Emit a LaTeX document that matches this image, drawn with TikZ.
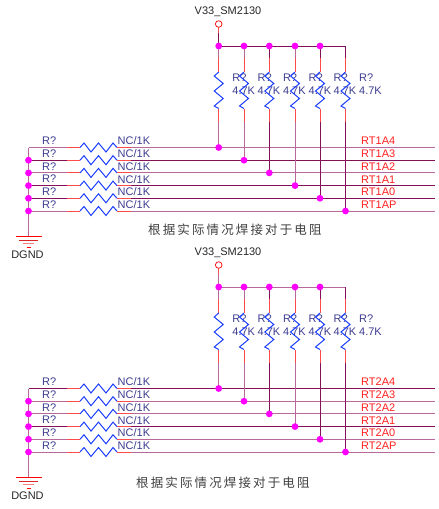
\documentclass[tikz,border=0pt]{standalone}
\usepackage{fontspec}
\setmainfont{Liberation Sans}
\newfontfamily\cjk[LetterSpace=17]{Noto Sans CJK SC}

\definecolor{wiredk}{HTML}{85105A}
\definecolor{wirelt}{HTML}{B8689A}
\definecolor{stubred}{HTML}{FF4A4A}
\definecolor{labelblue}{HTML}{3C3C90}
\definecolor{junction}{HTML}{FF00FF}
\definecolor{resblue}{HTML}{1A3CFF}
\definecolor{netred}{HTML}{FF2020}

\tikzset{
    wire/.style={line width=0.9pt},
    stub/.style={stubred, line width=1pt},
    resline/.style={resblue, line width=1pt},
    dot/.style={circle, fill=junction, inner sep=0pt, minimum size=6.8pt},
    txt/.style={font=\fontsize{11}{12}\selectfont, inner sep=0pt, anchor=west},
    resv/.pic={\draw[resline] (0,0) -- (-4.5,4) -- (4.5,11.5) -- (-4.5,19) -- (4.5,26.5) -- (-4.5,34) -- (0,36.5);},
    resh/.pic={\draw[resline] (0,0) -- (4,-4.5) -- (11,4.5) -- (18.5,-4.5) -- (26,4.5) -- (33,-4.5) -- (37,0);}
}

% one block: y offset, name, row colours, net prefix, column colours, rail colour
\newcommand{\rtblock}[6]{
  \begin{scope}[yshift=-#1pt]
    \coordinate (#2pwr) at (218.7,24);
    \coordinate (#2gnd) at (28.5,236.5);
    \draw[wire, #6] (218.7,46) coordinate (#2top) -- (345.5,46) coordinate (#2end);
    \draw[wire, #6] (#2pwr) -- (#2top);
    \draw[stub] (218.7,27) -- (218.7,33);
    \node[draw=red, fill=white, circle, inner sep=0pt, minimum size=6.6pt, line width=0.7pt] (#2circ) at (#2pwr) {};
    \node[txt, text=black!85] (#2vcc) at (194.5,12) {V33\_SM2130};
    % rows, left rail to the right edge
    \foreach \i/\c in {#3} {
      \pgfmathsetmacro{\yy}{147.5+12.7*\i}
      \coordinate (#2l\i) at (28.5,\yy);
      \coordinate (#2r\i) at (435,\yy);
      \draw[wire, \c] (#2l\i) -- (#2r\i);
      \draw[stub] (67,\yy) -- (80,\yy);
      \draw[stub] (117,\yy) -- (131,\yy);
      \fill[white] (80,\yy-1) rectangle (117,\yy+1);
      \pic at (80,\yy) {resh};
      \node[txt, text=labelblue] (#2rn\i) at (42,\yy-6.5) {R?};
      \node[txt, text=labelblue] (#2nc\i) at (117.5,\yy-6.5) {NC/1K};
    }
    \node[txt, text=netred] at (361,141) {#4A4};
    \node[txt, text=netred] at (361,154) {#4A3};
    \node[txt, text=netred] at (361,166.7) {#4A2};
    \node[txt, text=netred] at (361,179.3) {#4A1};
    \node[txt, text=netred] at (361,192) {#4A0};
    \node[txt, text=netred] at (361,204.7) {#4AP};
    % columns, rail down to one row each
    \foreach \i/\xx/\c in {#5} {
      \pgfmathsetmacro{\yy}{147.5+12.7*\i}
      \coordinate (#2c\i) at (\xx,46);
      \coordinate (#2d\i) at (\xx,\yy);
      \draw[wire, \c] (#2c\i) -- (#2d\i);
      \draw[stub] (\xx,58) -- (\xx,72);
      \draw[stub] (\xx,108.5) -- (\xx,122);
      \fill[white] (\xx-1,72) rectangle (\xx+1,108.5);
      \node[dot] (#2dot\i) at (#2d\i) {};
    }
    \foreach \i/\xx/\c in {#5} {
      \node[txt, text=labelblue] (#2rv\i) at (\xx+13.5,78) {R?};
      \node[txt, text=labelblue] (#2kv\i) at (\xx+13.5,91) {4.7K};
      \pic at (\xx,72) {resv};
    }
    \foreach \i in {0,1,2,3,4} {\node[dot] at (#2c\i) {};}
    \draw[wire, wirelt] (#2l0) -- (#2gnd);
    \foreach \i in {1,2,3,4,5} {\node[dot] at (#2l\i) {};}
    % ground symbol
    \draw[red, line width=0.8pt] (15.5,236.5) -- (41.5,236.5);
    \draw[red!70!gray, line width=0.8pt] (19,240) -- (38,240);
    \draw[red!50!white, line width=0.8pt] (22.7,243.5) -- (34,243.5);
    \draw[red, line width=0.8pt] (26.7,247.3) -- (30.7,247.3);
    \node[txt, text=black!85, anchor=center] (#2dgnd) at (27.5,255) {DGND};
  \end{scope}
}

\begin{document}
\begin{tikzpicture}[x=1pt, y=-1pt]

    \useasboundingbox (0,0) rectangle (439,509);

    \rtblock{0}{a}{0/wirelt,1/wiredk,2/wirelt,3/wiredk,4/wiredk,5/wirelt}{RT1}
      {0/218.7/wirelt,1/244/wirelt,2/269.3/wiredk,3/295/wirelt,4/320/wiredk,5/345.5/wiredk}{wiredk}

    \rtblock{241}{b}{0/wiredk,1/wirelt,2/wirelt,3/wiredk,4/wirelt,5/wirelt}{RT2}
      {0/218.7/wirelt,1/244/wirelt,2/269.3/wiredk,3/295/wirelt,4/320/wiredk,5/345.5/wiredk}{wirelt}

    \node[inner sep=0pt, anchor=west, text=black!75, font=\cjk\fontsize{12.5}{14}\selectfont] (note1) at (148,229.3) {根据实际情况焊接对于电阻};
    \node[inner sep=0pt, anchor=west, text=black!75, font=\cjk\fontsize{12.5}{14}\selectfont] (note2) at (136,482.5) {根据实际情况焊接对于电阻};
\end{tikzpicture}
\end{document}
